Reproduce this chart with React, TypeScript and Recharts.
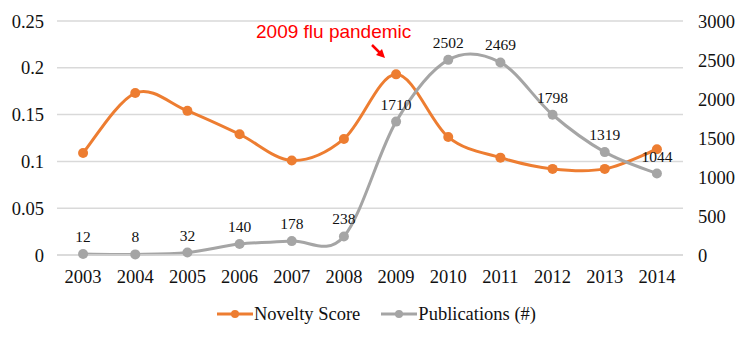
import {
  ComposedChart,
  Line,
  XAxis,
  YAxis,
  CartesianGrid,
  Legend,
  LabelList,
} from 'recharts';

const years = ['2003', '2004', '2005', '2006', '2007', '2008', '2009', '2010', '2011', '2012', '2013', '2014'];
const noveltyScore = [0.109, 0.173, 0.154, 0.129, 0.101, 0.124, 0.193, 0.126, 0.104, 0.092, 0.092, 0.113];
const publications = [12, 8, 32, 140, 178, 238, 1710, 2502, 2469, 1798, 1319, 1044];
const leftTicks = [0, 0.05, 0.1, 0.15, 0.2, 0.25];
const rightTicks = [0, 500, 1000, 1500, 2000, 2500, 3000];

const ORANGE = '#ED7D31';
const GRAY = '#A5A5A5';
const SERIF = '"Liberation Serif", "Times New Roman", serif';

// Excel-like smoothing (Catmull-Rom through every point)
const smoothCurve = (context: any) => {
  let pts: [number, number][] = [];
  return {
    areaStart() {},
    areaEnd() {},
    lineStart() {
      pts = [];
    },
    point(x: number, y: number) {
      pts.push([+x, +y]);
    },
    lineEnd() {
      if (!pts.length) return;
      context.moveTo(pts[0][0], pts[0][1]);
      for (let i = 0; i < pts.length - 1; i++) {
        const p0 = pts[i - 1] || pts[i];
        const p1 = pts[i];
        const p2 = pts[i + 1];
        const p3 = pts[i + 2] || p2;
        context.bezierCurveTo(
          p1[0] + (p2[0] - p0[0]) / 6,
          p1[1] + (p2[1] - p0[1]) / 6,
          p2[0] - (p3[0] - p1[0]) / 6,
          p2[1] - (p3[1] - p1[1]) / 6,
          p2[0],
          p2[1],
        );
      }
    },
  };
};

const data = years.map((year, i) => ({
  year,
  novelty: noveltyScore[i],
  pubs: publications[i],
}));

const legendItems = [
  {label: 'Novelty Score', color: ORANGE},
  {label: 'Publications (#)', color: GRAY},
];

const tickStyle = {fill: '#111', fontSize: 18.5, fontFamily: SERIF};

const ChartLegend = () => (
  <div
    style={{
      height: 50,
      paddingTop: 8,
      boxSizing: 'border-box',
      display: 'flex',
      justifyContent: 'center',
      alignItems: 'center',
      paddingLeft: 6,
      fontFamily: SERIF,
      fontSize: 18.5,
      color: '#111',
    }}>
    {legendItems.map((item, i) => (
      <div
        key={item.label}
        style={{display: 'flex', alignItems: 'center', marginRight: i === 0 ? 21 : 0}}>
        <svg width={36} height={12} style={{marginRight: 1}}>
          <line x1={0} y1={6} x2={36} y2={6} stroke={item.color} strokeWidth={3} />
          <circle cx={18} cy={6} r={4} fill={item.color} />
        </svg>
        <span>{item.label}</span>
      </div>
    ))}
  </div>
);

const App = () => {
  return (
    <div
      style={{
        position: 'absolute',
        left: 0,
        top: 0,
        width: 747,
        height: 344,
        background: '#fff',
        fontFamily: SERIF,
      }}>
      <ComposedChart
        width={747}
        height={344}
        data={data}
        margin={{top: 21, right: 0, bottom: 9, left: 0}}>
        <CartesianGrid vertical={false} stroke="#d9d9d9" strokeWidth={1.5} yAxisId="left" />
        <XAxis
          dataKey="year"
          scale="band"
          axisLine={{stroke: '#d9d9d9', strokeWidth: 1.5}}
          tickLine={false}
          height={30}
          tickMargin={9}
          tick={tickStyle}
        />
        <YAxis
          yAxisId="left"
          width={57}
          domain={[0, 0.25]}
          ticks={leftTicks}
          axisLine={false}
          tickLine={false}
          tickMargin={7}
          tick={tickStyle}
        />
        <YAxis
          yAxisId="right"
          orientation="right"
          width={64}
          domain={[0, 3000]}
          ticks={rightTicks}
          axisLine={false}
          tickLine={false}
          tickMargin={9}
          tick={tickStyle}
        />
        <Legend verticalAlign="bottom" content={() => <ChartLegend />} />
        <Line
          yAxisId="left"
          dataKey="novelty"
          name="Novelty Score"
          type={smoothCurve as any}
          stroke={ORANGE}
          strokeWidth={3}
          dot={{r: 5, fill: ORANGE, stroke: ORANGE, strokeWidth: 0}}
          isAnimationActive={false}
        />
        <Line
          yAxisId="right"
          dataKey="pubs"
          name="Publications (#)"
          type={smoothCurve as any}
          stroke={GRAY}
          strokeWidth={3}
          dot={{r: 5, fill: GRAY, stroke: GRAY, strokeWidth: 0}}
          isAnimationActive={false}>
          <LabelList
            dataKey="pubs"
            position="top"
            offset={12}
            fill="#111"
            fontSize={15.5}
            fontFamily={SERIF}
          />
        </Line>
      </ComposedChart>
      <svg
        width={747}
        height={344}
        style={{position: 'absolute', left: 0, top: 0, pointerEvents: 'none'}}>
        <text
          x={256}
          y={38}
          fill="#FF0000"
          fontSize={19}
          fontFamily='"Liberation Sans", Arial, sans-serif'>
          2009 flu pandemic
        </text>
        <line x1={372} y1={45} x2={381} y2={54} stroke="#FF0000" strokeWidth={2.5} />
        <polygon points="385,58 376,55 382,49" fill="#FF0000" />
      </svg>
    </div>
  );
};

export default App;
